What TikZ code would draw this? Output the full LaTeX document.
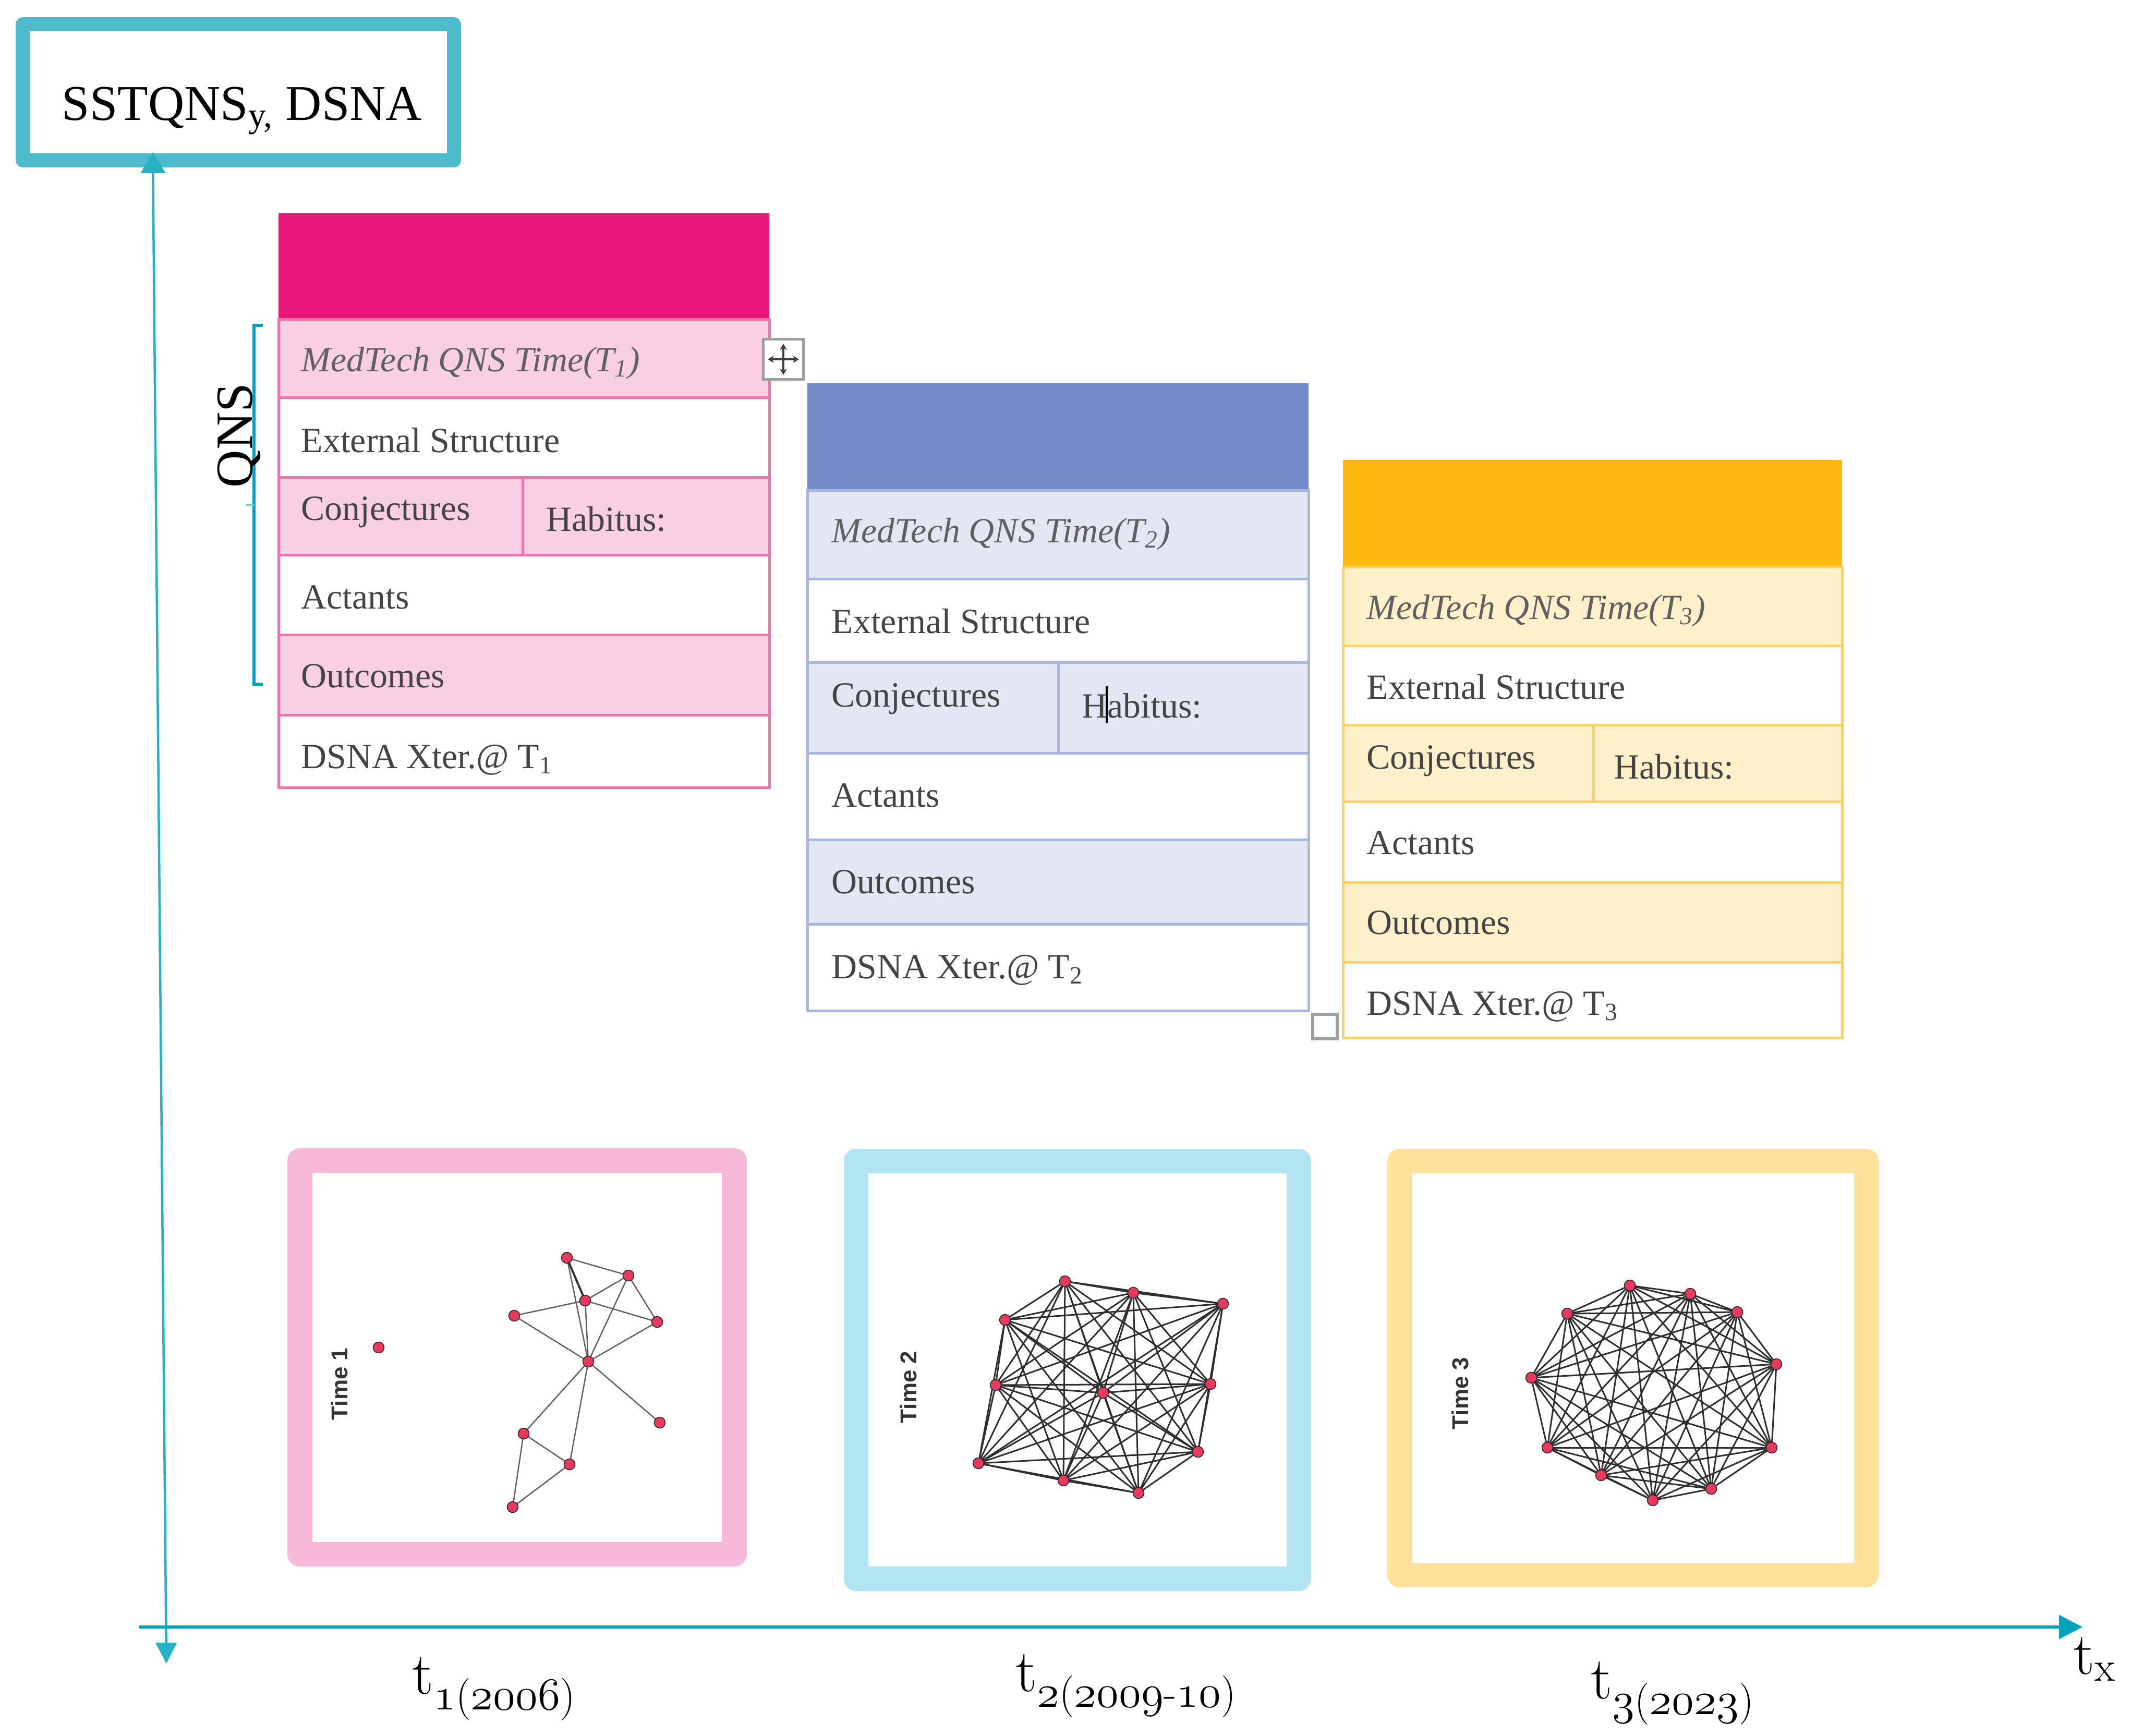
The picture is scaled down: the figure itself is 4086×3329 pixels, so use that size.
\documentclass[tikz,border=0pt]{standalone}
\usepackage{fontspec}
\newfontfamily\libser{Liberation Serif}
\newfontfamily\libsans{Liberation Sans}
\usetikzlibrary{arrows.meta}
\definecolor{titlecyan}{HTML}{4DBBCC}
\definecolor{axiscyan}{HTML}{00A3BA}
\definecolor{pinkhead}{HTML}{E9167B}
\definecolor{pinklight}{HTML}{F9CFE3}
\definecolor{pinkline}{HTML}{F273AA}
\definecolor{bluehead}{HTML}{728AC6}
\definecolor{bluelight}{HTML}{E2E7F3}
\definecolor{blueline}{HTML}{A8B7DF}
\definecolor{yellowhead}{HTML}{FEB810}
\definecolor{yellowlight}{HTML}{FFF0CC}
\definecolor{yellowline}{HTML}{FED266}
\definecolor{framepink}{HTML}{F8B9D8}
\definecolor{frameblue}{HTML}{B2E5F3}
\definecolor{frameyellow}{HTML}{FEE19A}
\definecolor{nodered}{HTML}{E8395F}
\definecolor{txtgray}{HTML}{444444}
\newcommand\osn[1]{$\mathnormal{#1}$}
\begin{document}
\begin{tikzpicture}[x=0.01cm,y=-0.01cm,
  tabtext/.style={anchor=base west, inner sep=0pt, text=txtgray, font=\libser\fontsize{19.3}{23}\selectfont},
  tabital/.style={anchor=base west, inner sep=0pt, text=txtgray!85, font=\libser\itshape\fontsize{19.3}{23}\selectfont},
  tabline/.style={line width=0.05cm},
  tlab/.style={anchor=base west, inner sep=0pt, font=\fontsize{32.7}{38}\selectfont},
  timelab/.style={rotate=90, inner sep=0pt, text=black!80, font=\libsans\bfseries\fontsize{12.5}{15}\selectfont},
  netframe/.style={line width=0.47cm, line join=round},
  netedge/.style={line width=0.03cm, draw=black!82},
  netedgeone/.style={line width=0.025cm, draw=black!62},
  netnode/.style={circle, fill=nodered, draw=black!85, line width=0.015cm, minimum size=0.21cm, inner sep=0pt},
  handle/.style={draw=gray!75, fill=white, inner sep=0pt},
  crossarrow/.style={draw=black!75, line width=0.035cm, {Stealth[length=0.12cm,width=0.14cm]}-{Stealth[length=0.12cm,width=0.14cm]}}
]
\useasboundingbox (0,0) rectangle (4086,3329);

% ---------- title box ----------
\node[draw=titlecyan, line width=0.27cm, line join=round, minimum width=8.26cm, minimum height=2.6cm, inner sep=0pt] (titlebox) at (457,177) {};
\node[anchor=base, inner sep=0pt, font=\libser\fontsize{27.3}{32}\selectfont] (titletext) at (464,230) {SSTQNS\textsubscript{y,} DSNA};

% ---------- axes ----------
\coordinate (ytop) at (293,292);
\coordinate (ybot) at (319,3190);
\draw[draw=axiscyan!85, line width=0.045cm, {Triangle[length=0.4cm,width=0.47cm]}-{Triangle[length=0.4cm,width=0.4cm]}] (ytop) -- (ybot);
\coordinate (xl) at (267,3120);
\coordinate (xr) at (3993,3120);
\draw[draw=axiscyan, line width=0.06cm, -{Triangle[length=0.45cm,width=0.45cm]}] (xl) -- (xr);

% ---------- QNS bracket ----------
\draw[axiscyan, line width=0.06cm] (504,624) -- (487,624) -- (487,1312) -- (504,1312);
\draw[axiscyan!55, line width=0.04cm] (472,968) -- (487,968);
\node[rotate=90, anchor=base, inner sep=0pt, font=\libser\fontsize{28.5}{34}\selectfont] (qns) at (483,835) {QNS};

% ---------- pink table ----------
\fill[pinkhead] (534,409) rectangle (1475,612);
\fill[pinklight] (534,612) rectangle (1475,762);
\fill[pinklight] (534,915) rectangle (1475,1064);
\fill[pinklight] (534,1217) rectangle (1475,1371);
\draw[pinkline, tabline] (534,612) rectangle (1475,1510);
\draw[pinkline, tabline] (534,762) -- (1475,762) (534,915) -- (1475,915) (534,1064) -- (1475,1064)
  (534,1217) -- (1475,1217) (534,1371) -- (1475,1371) (1002,915) -- (1002,1064);
\node[tabital] (ptime) at (577,712) {MedTech QNS Time(T\textsubscript{1})};
\node[tabtext] (pext) at (577,867) {External Structure};
\node[tabtext] (pconj) at (577,997) {Conjectures};
\node[tabtext] (phab) at (1047,1018) {Habitus:};
\node[tabtext] (pact) at (577,1167) {Actants};
\node[tabtext] (pout) at (577,1318) {Outcomes};
\node[tabtext] (pdsna) at (577,1473) {DSNA Xter.@ T\textsubscript{1}};

% move handle
\node[handle, line width=0.05cm, minimum size=0.77cm] (movehandle) at (1502,689) {};
\draw[crossarrow] (1472,689) -- (1532,689);
\draw[crossarrow] (1502,659) -- (1502,719);

% ---------- blue table ----------
\fill[bluehead] (1548,735) rectangle (2509,940);
\fill[bluelight] (1548,940) rectangle (2509,1110);
\fill[bluelight] (1548,1270) rectangle (2509,1444);
\fill[bluelight] (1548,1610) rectangle (2509,1772);
\draw[blueline, tabline] (1548,940) rectangle (2509,1938);
\draw[blueline, tabline] (1548,1110) -- (2509,1110) (1548,1270) -- (2509,1270) (1548,1444) -- (2509,1444)
  (1548,1610) -- (2509,1610) (1548,1772) -- (2509,1772) (2029,1270) -- (2029,1444);
\node[tabital] (btime) at (1594,1040) {MedTech QNS Time(T\textsubscript{2})};
\node[tabtext] (bext) at (1594,1214) {External Structure};
\node[tabtext] (bconj) at (1594,1355) {Conjectures};
\node[tabtext] (bhab) at (2074,1376) {Habitus:};
\node[tabtext] (bact) at (1594,1547) {Actants};
\node[tabtext] (bout) at (1594,1713) {Outcomes};
\node[tabtext] (bdsna) at (1594,1876) {DSNA Xter.@ T\textsubscript{2}};
\draw[black, line width=0.04cm] (2122,1315) -- (2122,1387);
\node[handle, line width=0.06cm, minimum size=0.47cm] (resizehandle) at (2540,1968) {};

% ---------- yellow table ----------
\fill[yellowhead] (2575,882) rectangle (3532,1087);
\fill[yellowlight] (2575,1087) rectangle (3532,1238);
\fill[yellowlight] (2575,1390) rectangle (3532,1537);
\fill[yellowlight] (2575,1692) rectangle (3532,1845);
\draw[yellowline, tabline] (2575,1087) rectangle (3532,1990);
\draw[yellowline, tabline] (2575,1238) -- (3532,1238) (2575,1390) -- (3532,1390) (2575,1537) -- (3532,1537)
  (2575,1692) -- (3532,1692) (2575,1845) -- (3532,1845) (3055,1390) -- (3055,1537);
\node[tabital] (ytime) at (2620,1187) {MedTech QNS Time(T\textsubscript{3})};
\node[tabtext] (yext) at (2620,1340) {External Structure};
\node[tabtext] (yconj) at (2620,1474) {Conjectures};
\node[tabtext] (yhab) at (3094,1493) {Habitus:};
\node[tabtext] (yact) at (2620,1638) {Actants};
\node[tabtext] (yout) at (2620,1791) {Outcomes};
\node[tabtext] (ydsna) at (2620,1946) {DSNA Xter.@ T\textsubscript{3}};

% ---------- network frames ----------
\draw[netframe, framepink] (575,2225) rectangle (1408,2980);
\draw[netframe, frameblue] (1641,2226) rectangle (2490,3027);
\draw[netframe, frameyellow] (2683,2226) rectangle (3578,3020);

\node[timelab] (time1) at (651,2654) {Time 1};
\node[timelab] (time2) at (1742,2660) {Time 2};
\node[timelab] (time3) at (2800,2672) {Time 3};

% ---------- network 1 ----------
\coordinate (n1) at (1087,2412);
\coordinate (n2) at (1205,2446);
\coordinate (n3) at (1122,2494);
\coordinate (n4) at (986,2523);
\coordinate (n5) at (1260,2535);
\coordinate (n6) at (1128,2611);
\coordinate (n7) at (726,2584);
\coordinate (n8) at (1265,2728);
\coordinate (n9) at (1004,2749);
\coordinate (n10) at (1092,2808);
\coordinate (n11) at (983,2890);
\foreach \a/\b in {n1/n2,n1/n3,n1/n6,n2/n3,n2/n5,n2/n6,n3/n4,n3/n5,n3/n6,n4/n6,n5/n6,n6/n8,n6/n9,n6/n10,n9/n10,n9/n11,n10/n11}
  \draw[netedgeone] (\a) -- (\b);
\draw[line width=0.04cm, black!80] (n1) -- (n3);
\foreach \n in {n1,n2,n3,n4,n5,n6,n7,n8,n9,n10,n11}
  \node[netnode] (\n dot) at (\n) {};

% ---------- network 2 ----------
\coordinate (m1) at (2042,2457);
\coordinate (m2) at (2173,2479);
\coordinate (m3) at (2345,2500);
\coordinate (m4) at (1927,2531);
\coordinate (m5) at (1909,2656);
\coordinate (m6) at (2115,2671);
\coordinate (m7) at (2321,2654);
\coordinate (m8) at (2297,2784);
\coordinate (m9) at (1876,2806);
\coordinate (m10) at (2039,2839);
\coordinate (m11) at (2183,2863);
\foreach \i in {1,...,10}{
  \pgfmathtruncatemacro\s{\i+1}
  \foreach \j in {\s,...,11}{\draw[netedge] (m\i) -- (m\j);}
}
\foreach \i in {1,...,11}
  \node[netnode] (m\i dot) at (m\i) {};

% ---------- network 3 ----------
\coordinate (k1) at (3125,2465);
\coordinate (k2) at (3241,2481);
\coordinate (k3) at (3331,2516);
\coordinate (k4) at (3005,2519);
\coordinate (k5) at (3406,2616);
\coordinate (k6) at (2936,2642);
\coordinate (k7) at (3397,2776);
\coordinate (k8) at (2967,2776);
\coordinate (k9) at (3281,2855);
\coordinate (k10) at (3070,2829);
\coordinate (k11) at (3169,2877);
\foreach \i in {1,...,10}{
  \pgfmathtruncatemacro\s{\i+1}
  \foreach \j in {\s,...,11}{\draw[netedge] (k\i) -- (k\j);}
}
\foreach \i in {1,...,11}
  \node[netnode] (k\i dot) at (k\i) {};

% ---------- time labels ----------
\node[tlab] (t1) at (790,3248) {t\textsubscript{\osn{1}(\osn{2006})}};
\node[tlab] (t2) at (1947,3243) {t\textsubscript{\osn{2}(\osn{2009}-\osn{10})}};
\node[tlab] (t3) at (3050,3257) {t\textsubscript{\osn{3}(\osn{2023})}};
\node[tlab] (tx) at (3975,3210) {t\textsubscript{x}};
\end{tikzpicture}
\end{document}
